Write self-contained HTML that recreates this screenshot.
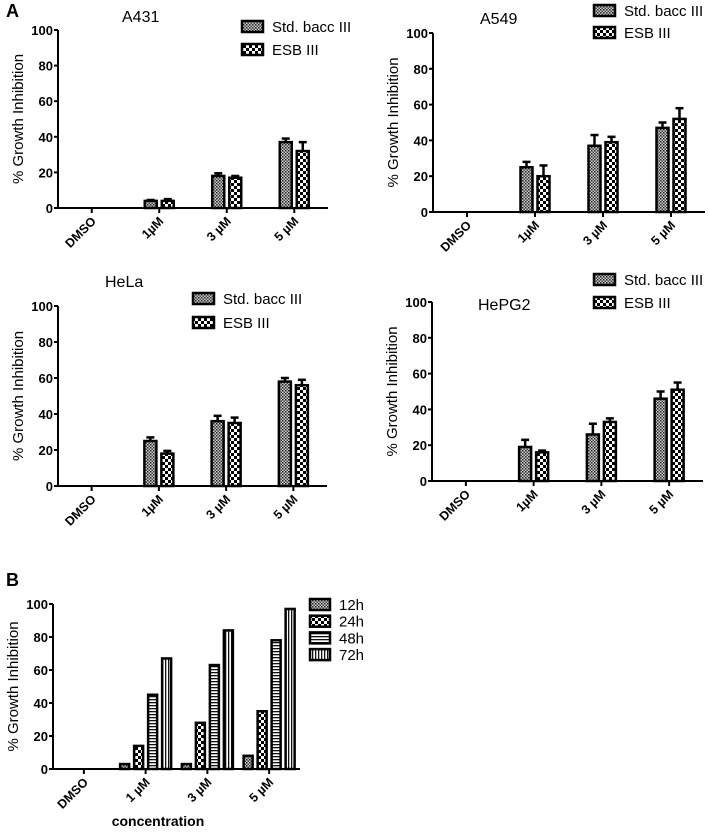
<!DOCTYPE html>
<html><head><meta charset="utf-8"><style>
body{margin:0;background:#fff}
svg text{font-family:"Liberation Sans",Arial,sans-serif}
</style></head><body>
<svg id="fig" width="709" height="830" viewBox="0 0 709 830" xmlns="http://www.w3.org/2000/svg">
<defs>
<pattern id="p0" width="3" height="3" patternUnits="userSpaceOnUse"><rect width="3" height="3" fill="#ccc"/><rect width="1.5" height="1.5" fill="#222"/><rect x="1.5" y="1.5" width="1.5" height="1.5" fill="#444"/></pattern>
<pattern id="p1" width="6" height="6" patternUnits="userSpaceOnUse"><rect width="6" height="6" fill="#fff"/><rect width="3" height="3" fill="#000"/><rect x="3" y="3" width="3" height="3" fill="#000"/></pattern>
<pattern id="p2" width="4" height="3" patternUnits="userSpaceOnUse"><rect width="4" height="3" fill="#fff"/><rect width="4" height="1.3" fill="#111"/></pattern>
<pattern id="p3" width="3" height="4" patternUnits="userSpaceOnUse"><rect width="3" height="4" fill="#fff"/><rect width="1.3" height="4" fill="#111"/></pattern>
</defs>
<text x="6" y="17" font-size="18" font-weight="bold">A</text>
<text x="6" y="586" font-size="18" font-weight="bold">B</text>
</svg>
<script>
const catsA = ["DMSO","1µM","3 µM","5 µM"];
const catsB = ["DMSO","1 µM","3 µM","5 µM"];
const yTicks = [0,20,40,60,80,100];
const seriesA = ["Std. bacc III","ESB III"];
const seriesB = ["12h","24h","48h","72h"];
const a431Std = [0,4,18,37];
const a431StdErr = [0,0.5,1.5,2];
const a431Esb = [0,4,17,32];
const a431EsbErr = [0,1,1,5];
const a549Std = [0,25,37,47];
const a549StdErr = [0,3,6,3];
const a549Esb = [0,20,39,52];
const a549EsbErr = [0,6,3,6];
const helaStd = [0,25,36,58];
const helaStdErr = [0,2,3,2];
const helaEsb = [0,18,35,56];
const helaEsbErr = [0,1.5,3,3];
const hepg2Std = [0,19,26,46];
const hepg2StdErr = [0,4,6,4];
const hepg2Esb = [0,16,33,51];
const hepg2EsbErr = [0,1,2,4];
const b12 = [0,3,3,8];
const b24 = [0,14,28,35];
const b48 = [0,45,63,78];
const b72 = [0,67,84,97];

const NS="http://www.w3.org/2000/svg";
const svg=document.getElementById('fig');
function mk(tag,attrs,parent){const e=document.createElementNS(NS,tag);for(const k in attrs)e.setAttribute(k,attrs[k]);(parent||svg).appendChild(e);return e;}

function chart(o){
  const g=mk('g',{});
  
  
  const y=v=>o.y0-(o.y0-o.y100)*v/100;
  const n=o.cats.length, step=(o.x1-o.x0)/n;
  const cx=i=>o.x0+step*(i+0.5);
  o.series.forEach((vals,s)=>{
    vals.forEach((v,i)=>{
      const ns=o.series.length;
      const bx=cx(i)-(ns*o.bstep-(o.bstep-o.bw))/2+s*o.bstep;
      if(v<=0) return;
      const r=mk('rect',{x:bx,y:y(v),width:o.bw,height:o.y0-y(v),fill:'url(#'+o.pats[s]+')',stroke:'#000','stroke-width':2.5},g);
      
      
      if(o.errs){
        const e=o.errs[s][i];
        if(e>0){
          const mx=bx+o.bw/2;
          mk('line',{x1:mx,x2:mx,y1:y(v),y2:y(v+e),stroke:'#000','stroke-width':2.5},g);
          mk('line',{x1:mx-4,x2:mx+4,y1:y(v+e),y2:y(v+e),stroke:'#000','stroke-width':2.5},g);
        }
      }
    });
  });
  const ax=mk('path',{d:`M${o.x0},${o.y100}V${o.y0}H${o.x1}`,fill:'none',stroke:'#000','stroke-width':2},g);
  
  
  yTicks.forEach(t=>{
    mk('line',{x1:o.x0-4,x2:o.x0,y1:y(t),y2:y(t),stroke:'#000','stroke-width':2},g);
    const tx=mk('text',{x:o.x0-5,y:y(t)+5,'font-size':13,'font-weight':'bold','text-anchor':'end'},g);
    tx.textContent=t;
    
    
  });
  o.cats.forEach((c,i)=>{
    mk('line',{x1:cx(i),x2:cx(i),y1:o.y0,y2:o.y0+5,stroke:'#000','stroke-width':2},g);
    const tx=mk('text',{x:0,y:0,'font-size':12.5,'font-weight':'bold','text-anchor':'end',transform:`translate(${cx(i)+5},${o.y0+14}) rotate(-45)`},g);
    tx.textContent=c;
    
    
  });
  const yl=mk('text',{x:0,y:0,'font-size':15,'text-anchor':'middle',transform:`translate(${o.x0-35},${(o.y0+o.y100)/2}) rotate(-90)`},g);
  yl.textContent='% Growth Inhibition';
  
  
  if(o.title){
    const t=mk('text',{x:o.tx,y:o.ty,'font-size':16},g);
    t.textContent=o.title;
    
    
  }
  o.lnames.forEach((nm,s)=>{
    const ly=o.ly+s*o.lstep;
    const b=mk('rect',{x:o.lx,y:ly,width:o.lw,height:11,fill:'url(#'+o.pats[s]+')',stroke:'#000','stroke-width':2.5},g);
    
    
    const t=mk('text',{x:o.lx+o.lw+9,y:ly+11,'font-size':15},g);
    t.textContent=nm;
    
    
  });
}
chart({name:'chart-a431',x0:58,x1:328,y0:208,y100:30,cats:catsA,series:[a431Std,a431Esb],errs:[a431StdErr,a431EsbErr],pats:['p0','p1'],bw:12,bstep:17,title:'A431',tx:122,ty:22,lnames:seriesA,lx:242,ly:21,lstep:23,lw:21});
chart({name:'chart-a549',x0:433,x1:705,y0:212,y100:33,cats:catsA,series:[a549Std,a549Esb],errs:[a549StdErr,a549EsbErr],pats:['p0','p1'],bw:12,bstep:17,title:'A549',tx:480,ty:24,lnames:seriesA,lx:594,ly:5,lstep:22,lw:21});
chart({name:'chart-hela',x0:58,x1:327,y0:486,y100:306,cats:catsA,series:[helaStd,helaEsb],errs:[helaStdErr,helaEsbErr],pats:['p0','p1'],bw:12,bstep:17,title:'HeLa',tx:105,ty:287,lnames:seriesA,lx:193,ly:293,lstep:24,lw:21});
chart({name:'chart-hepg2',x0:432,x1:703,y0:481,y100:302,cats:catsA,series:[hepg2Std,hepg2Esb],errs:[hepg2StdErr,hepg2EsbErr],pats:['p0','p1'],bw:12,bstep:17,title:'HePG2',tx:478,ty:310,lnames:seriesA,lx:594,ly:274,lstep:23,lw:21});
chart({name:'chart-time-course',x0:53,x1:300,y0:769,y100:604,cats:catsB,series:[b12,b24,b48,b72],errs:null,pats:['p0','p1','p2','p3'],bw:9,bstep:14,title:null,lnames:seriesB,lx:310,ly:599,lstep:16.7,lw:20});
const xl=mk('text',{x:158,y:826,'font-size':14,'font-weight':'bold','text-anchor':'middle'});
xl.textContent='concentration';


</script>
</body></html>
